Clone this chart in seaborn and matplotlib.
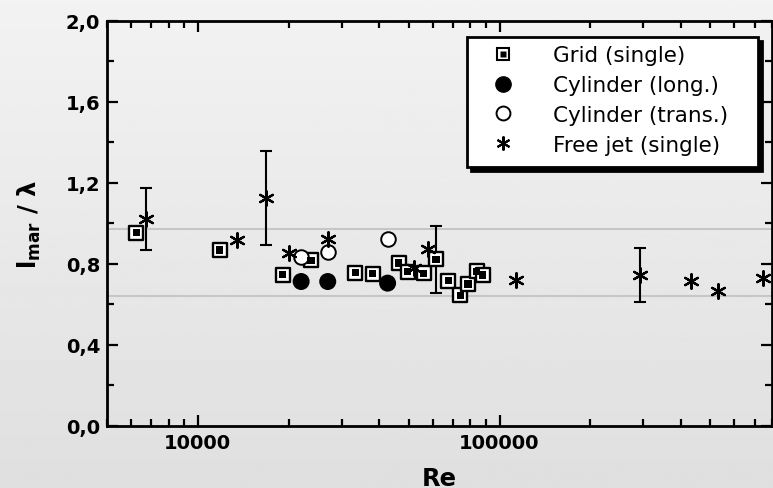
import numpy as np
import matplotlib
matplotlib.use("Agg")
import matplotlib.pyplot as plt
import seaborn as sns
from matplotlib.lines import Line2D
from matplotlib.patches import Rectangle
from matplotlib.ticker import FixedLocator, NullFormatter, FixedFormatter

# --- data ---
grid_re = [6250, 11800, 19120, 23740, 33270, 37970, 46300, 49560, 55980,
           61500, 67600, 74100, 78700, 83900, 87900]
grid_val = [0.953, 0.868, 0.746, 0.816, 0.755, 0.750, 0.803, 0.761, 0.753,
            0.821, 0.717, 0.643, 0.700, 0.763, 0.745]

cyl_long_re = [22000, 26950, 42560]
cyl_long_val = [0.712, 0.712, 0.704]

cyl_trans_re = [22000, 26950, 42560]
cyl_trans_val = [0.832, 0.860, 0.923]

jet_re = [6750, 13500, 16850, 20100, 26950, 51880, 58000, 113800,
          291700, 430000, 530000, 747000]
jet_val = [1.022, 0.919, 1.126, 0.854, 0.923, 0.778, 0.873, 0.720,
           0.745, 0.714, 0.667, 0.729]

# error bars (x, y, low, high)
err_re = [6750, 16850, 61500, 291700]
err_val = [1.022, 1.126, 0.821, 0.745]
err_low = [0.870, 0.893, 0.656, 0.610]
err_high = [1.175, 1.359, 0.984, 0.880]

ref_lines = [0.97, 0.64]

y_ticks = [0.0, 0.4, 0.8, 1.2, 1.6, 2.0]
y_labels = ["0,0", "0,4", "0,8", "1,2", "1,6", "2,0"]
x_ticks = [10000, 100000]
x_labels = ["10000", "100000"]

legend_names = ["Grid (single)", "Cylinder (long.)", "Cylinder (trans.)", "Free jet (single)"]

# --- style ---
sns.set_style("ticks")
plt.rcParams["font.family"] = ["DejaVu Sans"]
plt.rcParams["mathtext.fontset"] = "dejavusans"
plt.rcParams["mathtext.default"] = "bf"
for key in ("text.color", "axes.labelcolor", "xtick.color", "ytick.color"):
    plt.rcParams[key] = "black"

W, H = 773, 489
fig = plt.figure(figsize=(W / 100, H / 100), dpi=100)

# background gradient
bg = fig.add_axes([0, 0, 1, 1], zorder=-10)
grad = np.linspace(0.95, 0.875, 256).reshape(-1, 1)
bg.imshow(grad, aspect="auto", cmap="gray", vmin=0, vmax=1, extent=[0, 1, 0, 1])
bg.axis("off")

ax = fig.add_axes([107 / W, 1 - 426.7 / H, 665 / W, 405 / H])
ax.set_facecolor("none")

for y in ref_lines:
    ax.axhline(y, color="#c6c6c6", lw=1.5, zorder=1)

star = (6, 2, 0)

# error bars
ax.errorbar(err_re, err_val,
            yerr=[np.array(err_val) - np.array(err_low), np.array(err_high) - np.array(err_val)],
            fmt="none", ecolor="black", elinewidth=1.5, capsize=4.5, capthick=1.5, zorder=2)

# grid squares: outer white square, inner black square
sns.scatterplot(x=grid_re, y=grid_val, ax=ax, marker="s", s=95, color="white",
                edgecolor="black", linewidth=1.7, zorder=3)
sns.scatterplot(x=grid_re, y=grid_val, ax=ax, marker="s", s=28, color="black",
                edgecolor="none", linewidth=0, zorder=4)

sns.scatterplot(x=cyl_long_re, y=cyl_long_val, ax=ax, marker="o", s=150, color="black",
                edgecolor="none", linewidth=0, zorder=3)
sns.scatterplot(x=cyl_trans_re, y=cyl_trans_val, ax=ax, marker="o", s=110, color="white",
                edgecolor="black", linewidth=1.4, zorder=3)
sns.scatterplot(x=jet_re, y=jet_val, ax=ax, marker=star, s=110, color="black",
                edgecolor="black", linewidth=1.6, zorder=5)

ax.set_xscale("log")
ax.set_xlim(5000, 800000)
ax.set_ylim(0, 2.0)

ax.xaxis.set_major_locator(FixedLocator(x_ticks))
ax.xaxis.set_major_formatter(FixedFormatter(x_labels))
minor_x = [m * 10 ** e for e in (3, 4, 5) for m in range(2, 10)]
ax.xaxis.set_minor_locator(FixedLocator(minor_x))
ax.xaxis.set_minor_formatter(NullFormatter())

ax.yaxis.set_major_locator(FixedLocator(y_ticks))
ax.yaxis.set_major_formatter(FixedFormatter(y_labels))
ax.yaxis.set_minor_locator(FixedLocator([0.2, 0.6, 1.0, 1.4, 1.8]))

ax.tick_params(which="both", direction="in", top=True, right=True, width=1.6, colors="black")
ax.tick_params(which="major", length=8)
ax.tick_params(which="minor", length=5)
ax.tick_params(axis="both", which="major", labelsize=14)
ax.tick_params(axis="y", which="major", pad=5)
ax.tick_params(axis="x", which="major", pad=5)
for lab in ax.get_xticklabels() + ax.get_yticklabels():
    lab.set_fontweight("bold")

for sp in ax.spines.values():
    sp.set_linewidth(2)
    sp.set_color("black")

ax.set_xlabel("Re", fontsize=17.5, fontweight="bold", labelpad=10, color="black")
ax.set_ylabel(r"$l_{mar}$ / λ", fontsize=17.5, fontweight="bold", labelpad=16, color="black")

# legend box with black drop shadow
bx0, by0, bx1, by1 = 467, 37.7, 758, 167.7
shadow = Rectangle(((bx0 + 4) / W, 1 - (by1 + 4) / H), (bx1 - bx0) / W, (by1 - by0) / H,
                   transform=fig.transFigure, facecolor="black", edgecolor="black",
                   lw=2, zorder=8)
box = Rectangle((bx0 / W, 1 - by1 / H), (bx1 - bx0) / W, (by1 - by0) / H,
                transform=fig.transFigure, facecolor="white", edgecolor="black",
                lw=2, zorder=9)
fig.add_artist(shadow)
fig.add_artist(box)

h_grid = (Line2D([], [], ls="none", marker="s", ms=8.5, mfc="white", mec="black", mew=1.5),
          Line2D([], [], ls="none", marker="s", ms=3.8, mfc="black", mec="none"))
h_long = Line2D([], [], ls="none", marker="o", ms=11, mfc="black", mec="black")
h_trans = Line2D([], [], ls="none", marker="o", ms=10, mfc="white", mec="black", mew=1.4)
h_jet = Line2D([], [], ls="none", marker=star, ms=10, mfc="black", mec="black", mew=1.5)
leg = fig.legend([h_grid, h_long, h_trans, h_jet], legend_names,
                 loc="upper left", bbox_to_anchor=(481.2 / W, 1 - 46.5 / H),
                 bbox_transform=fig.transFigure, borderaxespad=0, borderpad=0,
                 fontsize=15.5, frameon=False, handlelength=2.0, handletextpad=1.33,
                 labelspacing=0.45, labelcolor="black")
leg.set_zorder(10)

fig.savefig("out.png", dpi=100)
